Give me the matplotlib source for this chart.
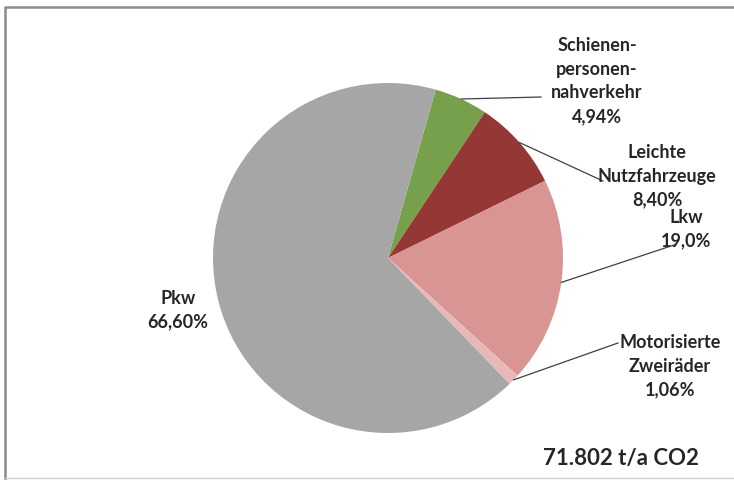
import numpy as np
import matplotlib.pyplot as plt

# Anteile CO2-Emissionen nach Verkehrsmittel
kategorien = ['Schienen-\npersonen-\nnahverkehr', 'Leichte\nNutzfahrzeuge', 'Lkw',
              'Motorisierte\nZweiräder', 'Pkw']
anteile = [4.94, 8.40, 19.0, 1.06, 66.60]
prozent_text = ['4,94%', '8,40%', '19,0%', '1,06%', '66,60%']
farben = ['#77A04C', '#953735', '#D99594', '#E6B9B8', '#A6A6A6']
summe_text = '71.802 t/a CO2'

plt.rcParams['font.family'] = ['Lato', 'DejaVu Sans']

fig = plt.figure(figsize=(7.34, 4.80), dpi=100)
ax = fig.add_axes([0, 0, 1, 1])

cx, cy, r = 388, 222, 175
wedges, _ = ax.pie(anteile, colors=farben, startangle=74.2, counterclock=False,
                   center=(cx, cy), radius=r, frame=True)
ax.set_xlim(0, 734)
ax.set_ylim(0, 480)
ax.set_aspect('equal')
ax.axis('off')

# Rahmen
ax.plot([5, 5, 734], [0, 473, 473], color='#8c8c8c', linewidth=1.8, solid_capstyle='butt')
ax.plot([5, 734], [2, 2], color='#d0d0d0', linewidth=1.0)

farbe_text = '#262626'
# Beschriftungen: Textposition (oben, Mitte) und Ende der Führungslinie
label_pos = [(597, 443), (657, 336), (686, 271), (670, 146)]
linien_ende = [(541, 383), (603, 299), (674, 235), (618, 137)]

for i in range(4):
    w = wedges[i]
    mitte = np.deg2rad((w.theta1 + w.theta2) / 2)
    sx = cx + r * np.cos(mitte)
    sy = cy + r * np.sin(mitte)
    ex, ey = linien_ende[i]
    ax.plot([sx, ex], [sy, ey], color='#404040', linewidth=0.9)
    tx, ty = label_pos[i]
    ax.text(tx, ty, kategorien[i] + '\n' + prozent_text[i], ha='center', va='top',
            fontsize=13, fontweight='bold', color=farbe_text, linespacing=1.48)

ax.text(178, 170, kategorien[4] + '\n' + prozent_text[4], ha='center', va='center',
        fontsize=13, fontweight='bold', color=farbe_text, linespacing=1.45)

ax.text(621, 22, summe_text, ha='center', va='center', fontsize=16,
        fontweight='bold', color=farbe_text)

fig.savefig('out.png', dpi=100)
